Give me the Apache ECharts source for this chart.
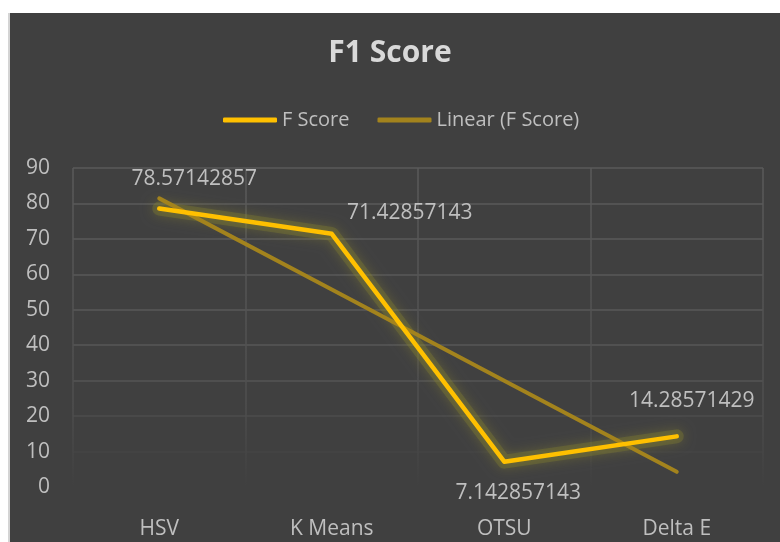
<!DOCTYPE html>
<html>
<head>
<meta charset="utf-8">
<script src="https://cdn.jsdelivr.net/npm/echarts@6/dist/echarts.min.js"></script>
<style>
html,body{margin:0;padding:0;background:#ffffff;}
#c{width:780px;height:542px;}
</style>
</head>
<body>
<div id="c"></div>
<script>
const categories = ['HSV', 'K Means', 'OTSU', 'Delta E'];
const fScore = [78.57142857, 71.42857143, 7.142857143, 14.28571429];
const fScoreLabels = ['78.57142857', '71.42857143', '7.142857143', '14.28571429'];
const linearTrend = [81.43, 55.71, 30.0, 4.29];
const yTicks = { min: 0, max: 90, interval: 10 };

const labelOffsets = [[35, -29], [78, -21], [14, 31], [15, -35]];

const chart = echarts.init(document.getElementById('c'));
const FONT = '"Open Sans", "Noto Sans", sans-serif';
const TXT = '#bfbfbf';

const hGridColors = ['rgba(0,0,0,0)', '#444444', '#4d4d4d', '#555555', '#575757', '#585858', '#595959', '#5a5a5a', '#5a5a5a', '#5a5a5a'];

chart.setOption({
  backgroundColor: '#ffffff',
  animation: false,
  graphic: [
    { type: 'rect', z: -10, silent: true, shape: { x: 8, y: 13, width: 772, height: 529 }, style: { fill: '#404040' } },
    { type: 'rect', z: -9, silent: true, shape: { x: 8, y: 13, width: 2, height: 529 }, style: { fill: '#d4d4d4' } }
  ],
  title: {
    text: 'F1 Score',
    left: 'center',
    top: 33,
    textStyle: { fontFamily: FONT, fontSize: 30, fontWeight: 'bold', color: '#d9d9d9' }
  },
  legend: {
    left: 218,
    top: 105,
    itemWidth: 54,
    itemHeight: 5,
    itemGap: 28,
    icon: 'roundRect',
    textStyle: { fontFamily: FONT, fontSize: 20, color: TXT },
    data: [
      { name: 'F Score', itemStyle: { color: '#FFC000' } },
      { name: 'Linear (F Score)', itemStyle: { color: '#a3831d' } }
    ]
  },
  grid: { left: 73, right: 17, top: 168, bottom: 55 },
  xAxis: {
    type: 'category',
    data: categories,
    boundaryGap: true,
    axisLine: { show: false },
    axisTick: { show: false },
    axisLabel: { fontFamily: FONT, fontSize: 21, color: TXT, margin: 32 },
    splitLine: {
      show: true,
      lineStyle: {
        width: 1.5,
        color: new echarts.graphic.LinearGradient(0, 168, 0, 487, [
          { offset: 0, color: '#5a5a5a' },
          { offset: 0.75, color: '#4e4e4e' },
          { offset: 1, color: '#404040' }
        ], true)
      }
    }
  },
  yAxis: {
    type: 'value',
    min: yTicks.min,
    max: yTicks.max,
    interval: yTicks.interval,
    axisLine: { show: false },
    axisTick: { show: false },
    axisLabel: { fontFamily: FONT, fontSize: 21, color: TXT, margin: 23 },
    splitLine: { show: true, lineStyle: { width: 1.5, color: hGridColors } }
  },
  series: [
    {
      name: 'glow',
      type: 'line',
      data: fScore,
      symbol: 'none',
      silent: true,
      z: 1,
      lineStyle: {
        color: 'rgba(140,135,45,0.3)',
        width: 14,
        cap: 'round',
        join: 'round',
        shadowColor: 'rgba(160,150,40,1)',
        shadowBlur: 12
      }
    },
    {
      name: 'Linear (F Score)',
      type: 'line',
      data: linearTrend,
      symbol: 'none',
      z: 2,
      lineStyle: { color: '#a3831d', width: 4, cap: 'round' },
      itemStyle: { color: '#a3831d' }
    },
    {
      name: 'F Score',
      type: 'line',
      z: 3,
      data: fScore.map((v, i) => ({
        value: v,
        label: {
          show: true,
          position: 'inside',
          offset: labelOffsets[i],
          formatter: fScoreLabels[i],
          fontFamily: FONT,
          fontSize: 21,
          color: TXT
        }
      })),
      symbol: 'circle',
      symbolSize: 1,
      itemStyle: { color: '#FFC000' },
      lineStyle: {
        color: '#FFC000',
        width: 4.5,
        cap: 'round',
        join: 'round'
      }
    }
  ]
});
</script>
</body>
</html>
